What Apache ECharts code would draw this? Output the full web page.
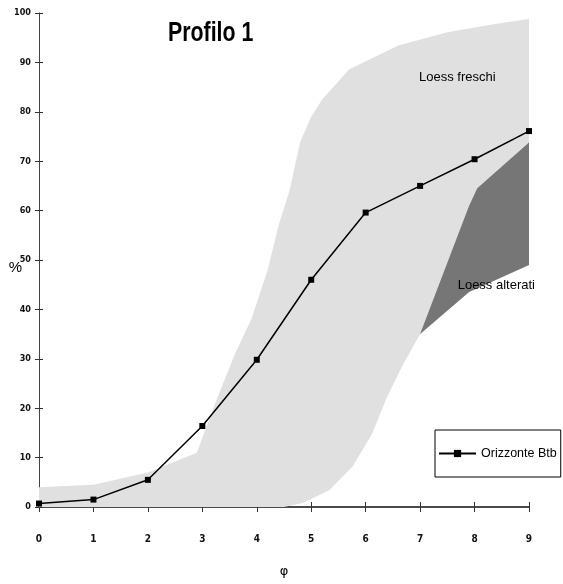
<!DOCTYPE html>
<html>
<head>
<meta charset="utf-8">
<script src="https://cdn.jsdelivr.net/npm/echarts@6/dist/echarts.min.js"></script>
<style>
html,body{margin:0;padding:0;background:#fff;}
#chart{width:563px;height:584px;}
</style>
</head>
<body>
<div id="chart"></div>
<script>
// ---- data ----
const xTicks = [0, 1, 2, 3, 4, 5, 6, 7, 8, 9];
const btbValues = [0.7, 1.5, 5.5, 16.4, 29.8, 46.0, 59.6, 65.0, 70.4, 76.1];

// "Loess freschi" envelope outline (upper edge left->right, then lower edge right->left)
const freschiX = [0, 1, 2, 2.9, 3.2, 3.6, 3.9, 4.2, 4.4, 4.6, 4.8, 5.0, 5.2, 5.7, 6.6, 7.5, 8.4, 9,
                  9, 7.9, 7.0, 6.67, 6.37, 6.12, 5.76, 5.33, 4.84, 4.5, 0];
const freschiY = [4, 4.5, 7, 11, 20, 31, 38, 48, 57, 64, 74, 79, 82.5, 88.6, 93.4, 96.1, 97.8, 98.8,
                  49, 43.5, 35, 28.5, 21.7, 14.9, 8.2, 3.4, 0.8, 0, 0];

// "Loess alterati" envelope outline
const alteratiX = [7.0, 7.9, 8.05, 9, 9, 7.9];
const alteratiY = [35, 61, 64.5, 73.8, 49, 43.5];

// annotations
const annotText = ['Loess freschi', 'Loess alterati'];
const annotX = [6.98, 7.69];
const annotY = [87, 44.8];

const seriesName = 'Orizzonte Btb';
const titleText = 'Profilo 1';

// ---- chart ----
function polygonSeries(xs, ys, fill, z) {
  return {
    type: 'custom',
    coordinateSystem: 'cartesian2d',
    silent: true,
    z: z,
    data: xs.map((x, i) => [x, ys[i]]),
    renderItem: function (params, api) {
      if (params.dataIndex !== 0) return null;
      const pts = xs.map((x, i) => api.coord([x, ys[i]]));
      return { type: 'polygon', shape: { points: pts }, style: { fill: fill, stroke: null } };
    }
  };
}

const chart = echarts.init(document.getElementById('chart'), null, { renderer: 'canvas' });
const labelFont = '"DejaVu Sans Condensed", "Liberation Sans Narrow", "Liberation Sans", sans-serif';

const option = {
  animation: false,
  backgroundColor: '#fff',
  graphic: [{
    type: 'text',
    left: 168, top: 20,
    scaleX: 0.79,
    originX: 0,
    style: { text: titleText, font: 'bold 27px "Liberation Sans", Arial, sans-serif', fill: '#000' }
  }],
  grid: { left: 39, right: 34, top: 13, bottom: 77, containLabel: false },
  legend: {
    data: [seriesName],
    left: 435, top: 430,
    orient: 'vertical',
    padding: [17, 4, 17, 3],
    borderColor: '#000', borderWidth: 1,
    itemWidth: 37, itemHeight: 9,
    textStyle: { fontFamily: '"Liberation Sans", Arial, sans-serif', fontSize: 12.5, color: '#000' }
  },
  xAxis: [{
    type: 'value', min: 0, max: 9, interval: 1,
    name: 'φ', nameLocation: 'middle', nameGap: 58, nameMoveOverlap: false,
    nameTextStyle: { fontFamily: '"DejaVu Sans", sans-serif', fontSize: 13, color: '#000' },
    axisLine: { show: true, onZero: false, lineStyle: { color: '#111', width: 1.5 } },
    axisTick: { show: true, inside: false, length: 5, lineStyle: { color: '#333' } },
    axisLabel: { margin: 27, fontFamily: labelFont, fontWeight: 'bold', fontSize: 10, color: '#111' },
    splitLine: { show: false }
  }, {
    type: 'value', min: 0, max: 9, interval: 1, position: 'bottom',
    axisLine: { show: false, onZero: false },
    axisTick: { show: true, inside: true, length: 5, lineStyle: { color: '#333' } },
    axisLabel: { show: false },
    splitLine: { show: false }
  }],
  yAxis: [{
    type: 'value', min: 0, max: 100, interval: 10,
    name: '%', nameLocation: 'middle', nameGap: 17, nameRotate: 0, nameMoveOverlap: false,
    nameTextStyle: { fontFamily: '"Liberation Sans", sans-serif', fontSize: 15, color: '#000', verticalAlign: 'top' },
    axisLine: { show: true, onZero: false, lineStyle: { color: '#444', width: 1 } },
    axisTick: { show: true, inside: false, length: 4, lineStyle: { color: '#333' } },
    axisLabel: { margin: 8, fontFamily: labelFont, fontWeight: 'bold', fontSize: 9, color: '#111' },
    splitLine: { show: false }
  }, {
    type: 'value', min: 0, max: 100, interval: 10, position: 'left',
    axisLine: { show: false, onZero: false },
    axisTick: { show: true, inside: true, length: 4, lineStyle: { color: '#333' } },
    axisLabel: { show: false },
    splitLine: { show: false }
  }],
  series: [
    polygonSeries(freschiX, freschiY, '#e0e0e0', 1),
    polygonSeries(alteratiX, alteratiY, '#767676', 2),
    {
      type: 'custom',
      coordinateSystem: 'cartesian2d',
      silent: true,
      z: 3,
      data: annotText.map((t, i) => [annotX[i], annotY[i], t]),
      renderItem: function (params, api) {
        const p = api.coord([api.value(0), api.value(1)]);
        return {
          type: 'text', x: p[0], y: p[1],
          style: { text: annotText[params.dataIndex], fill: '#000',
                   font: '13px "Liberation Sans", Arial, sans-serif',
                   textAlign: 'left', textVerticalAlign: 'middle' }
        };
      }
    },
    {
      name: seriesName,
      type: 'line',
      z: 5,
      data: xTicks.map((x, i) => [x, btbValues[i]]),
      symbol: 'rect', symbolSize: 6, showSymbol: true,
      itemStyle: { color: '#000' },
      lineStyle: { color: '#000', width: 1.5 }
    }
  ]
};
chart.setOption(option);
</script>
</body>
</html>
